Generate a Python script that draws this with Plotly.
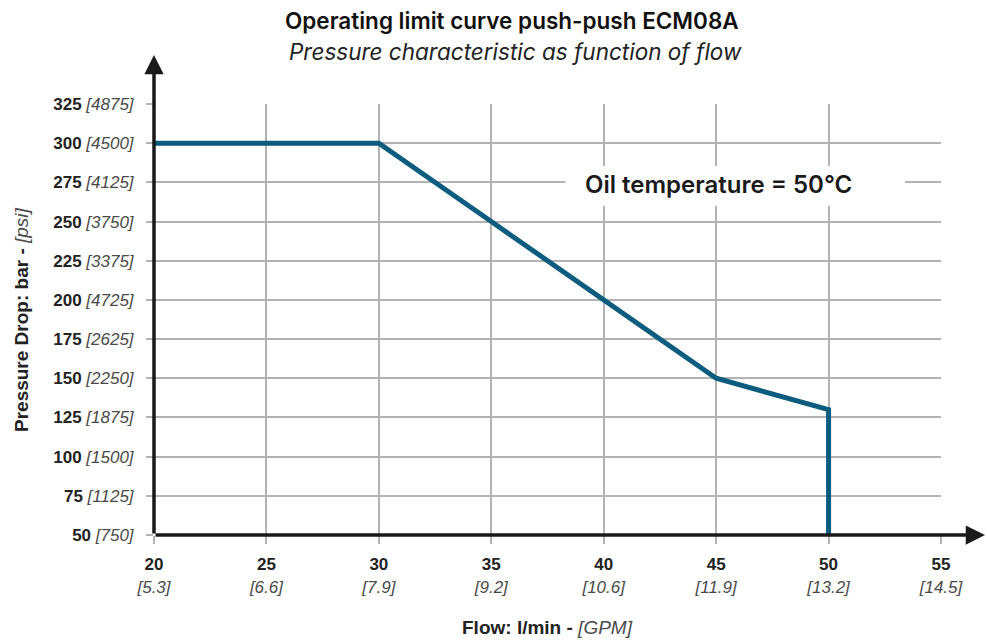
import plotly.graph_objects as go

# Data
flow_lpm = [20, 30, 35, 40, 45, 50, 50]
pressure_bar = [300, 300, 250, 200, 150, 130, 50]

x_ticks = [20, 25, 30, 35, 40, 45, 50, 55]
x_gpm = ["5.3", "6.6", "7.9", "9.2", "10.6", "11.9", "13.2", "14.5"]
y_ticks = [50, 75, 100, 125, 150, 175, 200, 225, 250, 275, 300, 325]
y_psi = ["750", "1125", "1500", "1875", "2250", "2625", "4725", "3375", "3750", "4125", "4500", "4875"]

FONT = "Liberation Sans"
FONT2 = "Inter"
LINE_COLOR = "#0c5c80"
GRID = "#b3b3b3"
AXIS = "#1a1a1a"
SUB = "#4a4a4a"

x_text = [f"<b>{v}</b><br><span style='color:{SUB}'><i>[{g}]</i></span>" for v, g in zip(x_ticks, x_gpm)]
y_text = [f"<b>{v}</b> <span style='color:{SUB}'><i>[{p}]</i></span>" for v, p in zip(y_ticks, y_psi)]

fig = go.Figure()
fig.add_trace(go.Scatter(
    x=flow_lpm, y=pressure_bar, mode="lines",
    line=dict(color=LINE_COLOR, width=5),
    hoverinfo="skip", showlegend=False,
))

W, H = 987, 642
L, R, T, B = 154, 46, 104, 107
pw = W - L - R
ph = H - T - B

fig.update_layout(
    width=W, height=H,
    margin=dict(l=L, r=R, t=T, b=B),
    paper_bgcolor="white", plot_bgcolor="white",
    font=dict(family=FONT, color="#222", size=17),
    showlegend=False,
    xaxis=dict(
        range=[20, 55], tickvals=x_ticks, ticktext=x_text,
        showgrid=True, gridcolor=GRID, gridwidth=2,
        ticks="outside", ticklen=8, tickwidth=2, tickcolor=GRID,
        zeroline=False, showline=False, fixedrange=True,
        tickfont=dict(size=17, family=FONT, color="#222"),
        ticklabelstandoff=6,
    ),
    yaxis=dict(
        range=[50, 325], tickvals=y_ticks, ticktext=y_text,
        showgrid=True, gridcolor=GRID, gridwidth=2,
        ticks="outside", ticklen=7, tickwidth=2, tickcolor=GRID,
        zeroline=False, showline=False, fixedrange=True,
        tickfont=dict(size=17, family=FONT, color="#222"),
        ticklabelstandoff=9,
    ),
)

# White box interrupting the grid behind the temperature label
fig.add_shape(type="rect", xref="x", yref="y", x0=38.3, x1=53.4, y0=260, y1=285.5,
              fillcolor="white", line=dict(width=0), layer="between")

annotations = []
# Title & subtitle
annotations.append(dict(
    text="Operating limit curve push-push ECM08A", xref="paper", yref="paper",
    x=(512 - L) / pw, y=(H - B - 21) / ph, xanchor="center", yanchor="middle",
    showarrow=False, font=dict(size=22.5, family=FONT2, color="#111", weight=600)))
annotations.append(dict(
    text="<i>Pressure characteristic as function of flow</i>", xref="paper", yref="paper",
    x=(515 - L) / pw, y=(H - B - 52) / ph, xanchor="center", yanchor="middle",
    showarrow=False, font=dict(size=22.5, family=FONT2, color="#222", weight=400)))
# Axis titles
annotations.append(dict(
    text=f"<b>Flow: l/min -</b> <span style='color:{SUB}'><i>[GPM]</i></span>", xref="paper", yref="paper",
    x=(547 - L) / pw, y=(H - B - 627) / ph, xanchor="center", yanchor="middle",
    showarrow=False, font=dict(size=19, family=FONT, color="#222")))
annotations.append(dict(
    text=f"<b>Pressure Drop: bar -</b> <span style='color:{SUB}'><i>[psi]</i></span>", xref="paper", yref="paper",
    x=(21 - L) / pw, y=(H - B - 320) / ph, xanchor="center", yanchor="middle", textangle=-90,
    showarrow=False, font=dict(size=19, family=FONT, color="#222")))
# Oil temperature label
annotations.append(dict(
    text="Oil temperature = 50°C", xref="x", yref="y", x=45.1, y=273.5,
    xanchor="center", yanchor="middle", showarrow=False,
    font=dict(size=24, family=FONT2, color="#1a1a1a", weight=600)))
# Axis lines with arrows
annotations.append(dict(
    text="", xref="paper", yref="paper", x=(985 - L) / pw, y=0,
    ax=-(985 - L), ay=0, axref="pixel", ayref="pixel",
    showarrow=True, arrowhead=2, arrowsize=1.1, arrowwidth=3.5, arrowcolor=AXIS))
annotations.append(dict(
    text="", xref="paper", yref="paper", x=0, y=(H - B - 55) / ph,
    ax=0, ay=(H - B - 55), axref="pixel", ayref="pixel",
    showarrow=True, arrowhead=2, arrowsize=1.1, arrowwidth=3.5, arrowcolor=AXIS))

fig.update_layout(annotations=annotations)
fig.write_html("out.html", config={"displayModeBar": False},
               post_script="document.body.style.margin='0px';")
